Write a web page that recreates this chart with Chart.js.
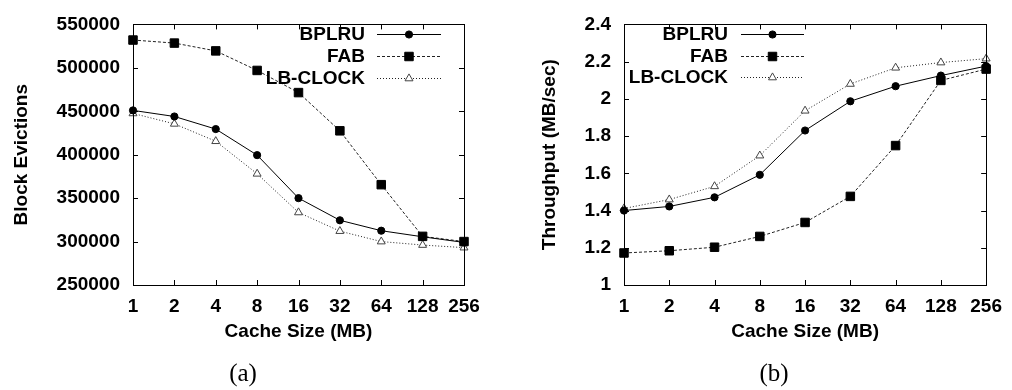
<!DOCTYPE html>
<html>
<head>
<meta charset="utf-8">
<script src="https://cdn.jsdelivr.net/npm/chart.js@4.4.0/dist/chart.umd.min.js"></script>
<style>
    body { margin: 0; background: #fff; }
    #wrap { position: relative; width: 1012px; height: 390px; }
    .panel { position: absolute; top: 0; width: 506px; height: 390px; }
</style>
</head>
<body>
<div id="wrap">
    <div class="panel" style="left:0"><canvas id="chart-a" width="506" height="390"></canvas></div>
    <div class="panel" style="left:506px"><canvas id="chart-b" width="506" height="390"></canvas></div>
</div>
<script>
// データ
const cacheSizes = ['1', '2', '4', '8', '16', '32', '64', '128', '256'];
const seriesNames = ['BPLRU', 'FAB', 'LB-CLOCK'];

// (a) Block Evictions
const evictBPLRU   = [451000, 444000, 429500, 399500, 350000, 324500, 312500, 305500, 299000];
const evictFAB     = [532000, 528500, 519500, 497000, 471500, 427500, 365500, 306000, 300000];
const evictLBCLOCK = [447500, 435500, 415500, 378000, 333500, 312000, 300000, 296000, 293000];
const evictTicks   = [250000, 300000, 350000, 400000, 450000, 500000, 550000];

// (b) Throughput
const thrBPLRU   = [1.400, 1.422, 1.471, 1.592, 1.830, 1.987, 2.068, 2.125, 2.176];
const thrFAB     = [1.172, 1.184, 1.203, 1.261, 1.336, 1.476, 1.749, 2.099, 2.160];
const thrLBCLOCK = [1.411, 1.459, 1.530, 1.695, 1.936, 2.080, 2.167, 2.195, 2.216];
const thrTicks      = [1, 1.2, 1.4, 1.6, 1.8, 2, 2.2, 2.4];
const thrTickLabels = ['1', '1.2', '1.4', '1.6', '1.8', '2', '2.2', '2.4'];

// 共通スタイル
const FONT = "'Liberation Sans', Arial, Helvetica, sans-serif";
Chart.defaults.font.family = FONT;
Chart.defaults.font.size = 19;
Chart.defaults.font.weight = 'bold';
Chart.defaults.color = '#000';

const seriesStyles = [
    { borderColor: '#000', borderDash: [], pointStyle: 'circle', pointRadius: 3.6, pointBackgroundColor: '#000', pointBorderColor: '#000' },
    { borderColor: '#222', borderDash: [3, 2], pointStyle: 'rect', pointRadius: 6, pointBackgroundColor: '#000', pointBorderColor: '#000' },
    { borderColor: '#222', borderDash: [1, 2], pointStyle: 'triangle', pointRadius: 4.6, pointBackgroundColor: '#fff', pointBorderColor: '#444' }
];

// マーカー描画（凡例用）
function drawMarker(ctx, style, x, y, r, fill, stroke) {
    ctx.save();
    ctx.setLineDash([]);
    ctx.lineWidth = 1;
    ctx.fillStyle = fill;
    ctx.strokeStyle = stroke;
    ctx.beginPath();
    if (style === 'circle') {
        ctx.arc(x, y, r, 0, Math.PI * 2);
    } else if (style === 'rect') {
        const s = r * Math.SQRT1_2;
        ctx.rect(x - s, y - s, 2 * s, 2 * s);
    } else {
        let a = 0;
        ctx.moveTo(x + Math.sin(a) * r, y - Math.cos(a) * r);
        a += Math.PI * 2 / 3;
        ctx.lineTo(x + Math.sin(a) * r, y - Math.cos(a) * r);
        a += Math.PI * 2 / 3;
        ctx.lineTo(x + Math.sin(a) * r, y - Math.cos(a) * r);
    }
    ctx.closePath();
    ctx.fill();
    ctx.stroke();
    ctx.restore();
}

// 枠・内向き目盛り・凡例・サブラベル
const framePlugin = {
    id: 'frame',
    afterDraw(chart, args, opts) {
        const ctx = chart.ctx;
        const { left, right, top, bottom } = chart.chartArea;
        const xs = chart.scales.x;
        const ys = chart.scales.y;
        ctx.save();
        ctx.strokeStyle = '#000';
        ctx.lineWidth = 1;
        ctx.setLineDash([]);
        ctx.strokeRect(Math.round(left) + 0.5, Math.round(top) + 0.5, Math.round(right - left), Math.round(bottom - top));

        const tl = 5;
        ctx.beginPath();
        ys.ticks.forEach(t => {
            const y = Math.round(ys.getPixelForValue(t.value)) + 0.5;
            ctx.moveTo(left, y); ctx.lineTo(left + tl, y);
            ctx.moveTo(right, y); ctx.lineTo(right - tl, y);
        });
        cacheSizes.forEach((c, i) => {
            const x = Math.round(xs.getPixelForValue(i)) + 0.5;
            ctx.moveTo(x, bottom); ctx.lineTo(x, bottom - tl);
            ctx.moveTo(x, top); ctx.lineTo(x, top + tl);
        });
        ctx.stroke();

        // 凡例
        ctx.font = `bold 19px ${FONT}`;
        ctx.textAlign = 'right';
        ctx.textBaseline = 'middle';
        chart.data.datasets.forEach((ds, i) => {
            const y = opts.legendY[i];
            ctx.fillStyle = '#000';
            ctx.fillText(ds.label, opts.legendTextX, y + 1);
            ctx.save();
            ctx.strokeStyle = ds.borderColor;
            ctx.setLineDash(ds.borderDash);
            ctx.beginPath();
            ctx.moveTo(opts.legendLine[0], y + 0.5);
            ctx.lineTo(opts.legendLine[1], y + 0.5);
            ctx.stroke();
            ctx.restore();
            drawMarker(ctx, ds.pointStyle, (opts.legendLine[0] + opts.legendLine[1]) / 2, y + 0.5,
                ds.pointRadius, ds.pointBackgroundColor, ds.pointBorderColor);
        });

        // サブラベル (a)/(b)
        ctx.font = `25px 'Liberation Serif', 'DejaVu Serif', serif`;
        ctx.textAlign = 'center';
        ctx.textBaseline = 'middle';
        ctx.fillStyle = '#000';
        ctx.fillText(opts.subLabel, opts.subLabelX, 374);
        ctx.restore();
    }
};

function makeChart(id, values, yTicks, yLabels, yTitle, geo) {
    const datasets = values.map((data, i) => Object.assign({
        label: seriesNames[i],
        data: data,
        borderWidth: 1,
        pointBorderWidth: 1,
        tension: 0,
        fill: false,
        clip: false
    }, seriesStyles[i]));

    return new Chart(document.getElementById(id), {
        type: 'line',
        data: { labels: cacheSizes, datasets: datasets },
        options: {
            responsive: false,
            animation: false,
            events: [],
            layout: { padding: { top: 18, right: geo.padRight, bottom: 40, left: 0 } },
            plugins: {
                legend: { display: false },
                tooltip: { enabled: false },
                frame: geo.frame
            },
            scales: {
                x: {
                    type: 'category',
                    offset: false,
                    grid: { display: false, drawTicks: false },
                    border: { display: false },
                    ticks: { padding: 10, maxRotation: 0, autoSkip: false },
                    title: { display: true, text: 'Cache Size (MB)', padding: { top: 0, bottom: 7 } },
                    afterFit(s) { s.height = 65; }
                },
                y: {
                    min: yTicks[0],
                    max: yTicks[yTicks.length - 1],
                    grid: { display: false, drawTicks: false },
                    border: { display: false },
                    afterBuildTicks(s) { s.ticks = yTicks.map(v => ({ value: v })); },
                    ticks: {
                        padding: 13,
                        callback: function(value) {
                            const idx = yTicks.indexOf(value);
                            return idx >= 0 ? yLabels[idx] : '';
                        }
                    },
                    title: { display: true, text: yTitle, padding: { top: geo.titlePad, bottom: 0 } },
                    afterFit(s) { s.width = geo.plotLeft; }
                }
            }
        },
        plugins: [framePlugin]
    });
}

makeChart('chart-a', [evictBPLRU, evictFAB, evictLBCLOCK], evictTicks,
    evictTicks.map(v => String(v)), 'Block Evictions', {
        plotLeft: 133, padRight: 42, titlePad: 10,
        frame: { legendTextX: 365, legendLine: [377, 441], legendY: [34, 56, 78], subLabel: '(a)', subLabelX: 243 }
    });

makeChart('chart-b', [thrBPLRU, thrFAB, thrLBCLOCK], thrTicks, thrTickLabels,
    'Throughput (MB/sec)', {
        plotLeft: 118, padRight: 22, titlePad: 32,
        frame: { legendTextX: 222, legendLine: [235, 298], legendY: [34, 56, 77], subLabel: '(b)', subLabelX: 268 }
    });
</script>
</body>
</html>
